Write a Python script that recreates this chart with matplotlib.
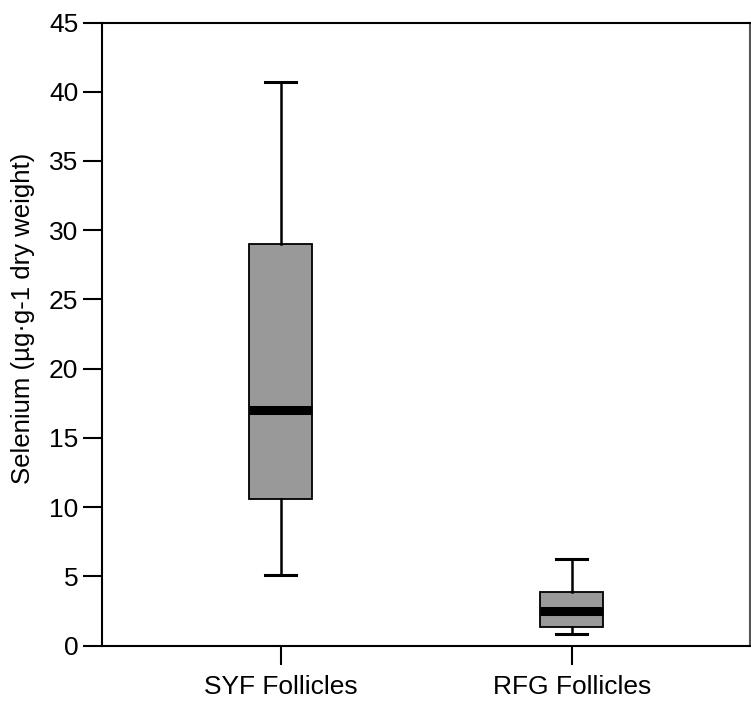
import matplotlib
matplotlib.use("Agg")
import matplotlib.pyplot as plt

plt.rcParams['font.family'] = ['Liberation Sans', 'DejaVu Sans']

# Five-number summaries (µg·g-1 dry weight)
groups = ["SYF Follicles", "RFG Follicles"]
whisker_low = [5.10, 0.84]
q1 = [10.59, 1.32]
median = [17.03, 2.50]
q3 = [29.01, 3.85]
whisker_high = [40.68, 6.28]

stats = []
for i, g in enumerate(groups):
    stats.append(dict(label=g, whislo=whisker_low[i], q1=q1[i], med=median[i],
                      q3=q3[i], whishi=whisker_high[i], fliers=[]))

fig = plt.figure(figsize=(7.51, 7.08), dpi=100)
ax = fig.add_axes([0.1358, 0.0880, 0.8629, 0.8802])

ax.bxp(stats, positions=[1, 2], widths=0.216, capwidths=0.107,
       patch_artist=True, showfliers=False,
       boxprops=dict(facecolor="#999999", edgecolor="black", linewidth=1.3),
       medianprops=dict(color="black", linewidth=6.5, solid_capstyle="butt"),
       whiskerprops=dict(color="black", linewidth=1.8),
       capprops=dict(color="black", linewidth=2.2))

ax.set_xlim(0.387, 2.612)
ax.set_ylim(0, 45)
ax.set_yticks(range(0, 46, 5))
ax.set_xticks([1, 2])
ax.set_xticklabels(groups)

ax.tick_params(axis="y", direction="out", length=14, width=1.5, labelsize=19, pad=3)
ax.tick_params(axis="x", direction="out", length=14, width=1.5, labelsize=19, pad=7)

for side in ["left", "bottom", "top"]:
    ax.spines[side].set_linewidth(1.5)
    ax.spines[side].set_color("black")
ax.spines["right"].set_linewidth(1.5)
ax.spines["right"].set_color("#555555")

ax.set_ylabel("Selenium (µg·g-1 dry weight)", fontsize=18.5)
ax.yaxis.set_label_coords(-0.104, 0.525)

fig.savefig("out.png", dpi=100)
